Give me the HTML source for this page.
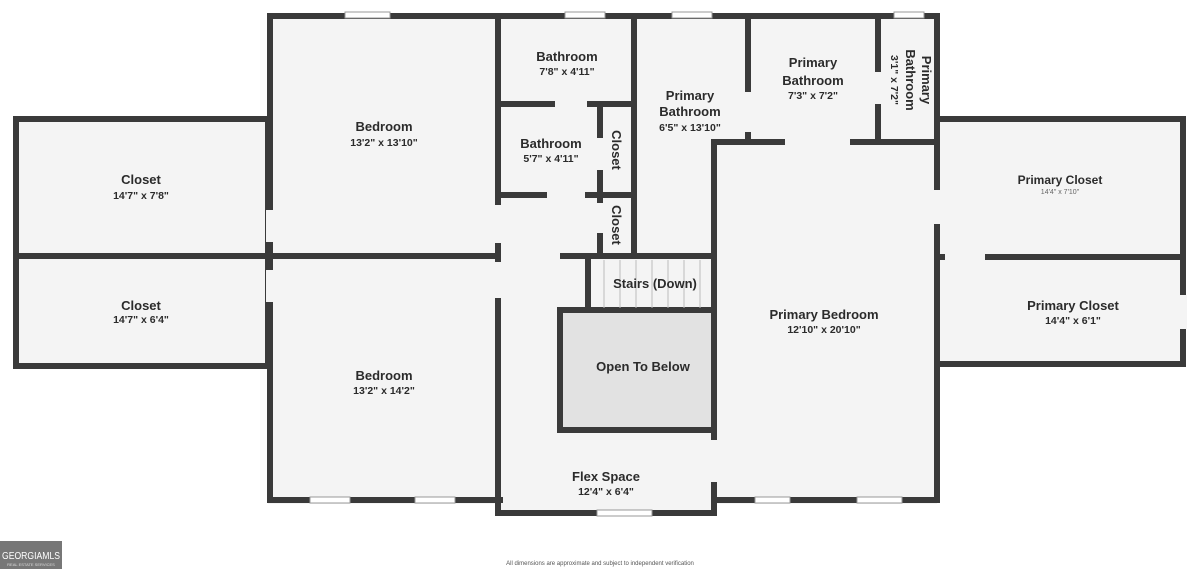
<!DOCTYPE html>
<html><head><meta charset="utf-8"><style>
html,body{margin:0;padding:0;background:#fff;width:1200px;height:569px;overflow:hidden}
svg{display:block}
text{font-family:"Liberation Sans","DejaVu Sans",sans-serif;fill:#2b2b2b;text-anchor:middle}
.t{font-size:13px;font-weight:bold}
.d{font-size:10.5px;font-weight:bold}
</style></head><body>
<svg width="1200" height="569" viewBox="0 0 1200 569">
<g fill="#f4f4f4">
<rect x="14" y="117" width="256" height="251"/>
<rect x="268" y="14" width="669" height="490"/>
<rect x="500" y="250" width="214" height="265"/>
<rect x="936" y="117" width="249" height="248"/>
<rect x="560" y="310" width="154" height="120" fill="#e2e2e2"/>
</g>
<g stroke="#3a3a3a" stroke-width="6" fill="none" stroke-linecap="square">
<rect x="16" y="119" width="252" height="247"/>
<line x1="16" y1="256" x2="268" y2="256"/>
<polyline points="270,16 937,16 937,142"/>
<line x1="270" y1="16" x2="270" y2="500"/>
<line x1="270" y1="500" x2="500" y2="500"/>
<line x1="498" y1="16" x2="498" y2="513"/>
<line x1="270" y1="256" x2="498" y2="256"/>
<polyline points="498,513 714,513 714,142"/>
<line x1="498" y1="104" x2="634" y2="104"/>
<line x1="498" y1="195" x2="634" y2="195"/>
<line x1="600" y1="104" x2="600" y2="252"/>
<line x1="634" y1="16" x2="634" y2="256"/>
<line x1="563" y1="256" x2="714" y2="256"/>
<line x1="588" y1="256" x2="588" y2="310"/>
<rect x="560" y="310" width="154" height="120"/>
<line x1="748" y1="16" x2="748" y2="142"/>
<line x1="878" y1="16" x2="878" y2="142"/>
<line x1="714" y1="142" x2="937" y2="142"/>
<line x1="937" y1="142" x2="937" y2="500"/>
<line x1="714" y1="500" x2="937" y2="500"/>
<rect x="937" y="119" width="246" height="245"/>
<line x1="937" y1="257" x2="1183" y2="257"/>
</g>
<g fill="#f4f4f4">
<rect x="266" y="210" width="8" height="32"/><rect x="266" y="270" width="8" height="32"/>
<rect x="494" y="205" width="8" height="38"/><rect x="494" y="262" width="8" height="36"/>
<rect x="555" y="100" width="32" height="8"/><rect x="547" y="191" width="38" height="8"/>
<rect x="596" y="138" width="8" height="32"/><rect x="596" y="203" width="8" height="30"/>
<rect x="744" y="92" width="8" height="40"/><rect x="874" y="72" width="8" height="32"/>
<rect x="785" y="138" width="65" height="8"/>
<rect x="933" y="190" width="8" height="34"/><rect x="945" y="253" width="40" height="8"/>
<rect x="1179" y="295" width="8" height="34"/>
<rect x="710" y="440" width="8" height="42"/>
</g>
<g fill="#fff" stroke="#999" stroke-width="1">
<rect x="345" y="12" width="45" height="6"/><rect x="310" y="497" width="40" height="6"/><rect x="415" y="497" width="40" height="6"/>
<rect x="565" y="12" width="40" height="6"/><rect x="672" y="12" width="40" height="6"/><rect x="894" y="12" width="30" height="6"/>
<rect x="755" y="497" width="35" height="6"/><rect x="857" y="497" width="45" height="6"/><rect x="597" y="510" width="55" height="6"/>
</g>
<g stroke="#bbb" stroke-width="1">
<line x1="604" y1="260" x2="604" y2="308"/><line x1="620" y1="260" x2="620" y2="308"/><line x1="636" y1="260" x2="636" y2="308"/>
<line x1="652" y1="260" x2="652" y2="308"/><line x1="668" y1="260" x2="668" y2="308"/><line x1="684" y1="260" x2="684" y2="308"/><line x1="700" y1="260" x2="700" y2="308"/>
</g>
<text class="t" x="141" y="184">Closet</text><text class="d" x="141" y="199">14'7" x 7'8"</text>
<text class="t" x="141" y="310">Closet</text><text class="d" x="141" y="323">14'7" x 6'4"</text>
<text class="t" x="384" y="131">Bedroom</text><text class="d" x="384" y="146">13'2" x 13'10"</text>
<text class="t" x="384" y="380">Bedroom</text><text class="d" x="384" y="394">13'2" x 14'2"</text>
<text class="t" x="567" y="61">Bathroom</text><text class="d" x="567" y="75">7'8" x 4'11"</text>
<text class="t" x="551" y="148">Bathroom</text><text class="d" x="551" y="162">5'7" x 4'11"</text>
<text class="t" transform="translate(612,150) rotate(90)">Closet</text>
<text class="t" transform="translate(612,225) rotate(90)">Closet</text>
<text class="t" x="690" y="100">Primary</text><text class="t" x="690" y="116">Bathroom</text><text class="d" x="690" y="131">6'5" x 13'10"</text>
<text class="t" x="813" y="67">Primary</text><text class="t" x="813" y="85">Bathroom</text><text class="d" x="813" y="99">7'3" x 7'2"</text>
<text class="t" transform="translate(922,80) rotate(90)">Primary</text>
<text class="t" transform="translate(906,80) rotate(90)">Bathroom</text>
<text class="d" transform="translate(891,80) rotate(90)">3'1" x 7'2"</text>
<text class="t" x="655" y="288">Stairs (Down)</text>
<text class="t" x="643" y="371">Open To Below</text>
<text class="t" x="824" y="319">Primary Bedroom</text><text class="d" x="824" y="333">12'10" x 20'10"</text>
<text class="t" x="606" y="481">Flex Space</text><text class="d" x="606" y="495">12'4" x 6'4"</text>
<text class="t" x="1060" y="184" style="font-size:12px">Primary Closet</text><text x="1060" y="194" style="font-size:7px;fill:#666">14'4"  x  7'10"</text>
<text class="t" x="1073" y="310">Primary Closet</text><text class="d" x="1073" y="324">14'4" x 6'1"</text>
<text x="600" y="565" style="font-size:6px;fill:#555">All dimensions are approximate and subject to independent verification</text>
<rect x="0" y="541" width="62" height="28" fill="#777"/>
<text x="31" y="559" style="font-size:10px;fill:#fff" textLength="58" lengthAdjust="spacingAndGlyphs">GEORGIAMLS</text>
<text x="31" y="566" style="font-size:4px;fill:#ddd">REAL ESTATE SERVICES</text>
</svg>
</body></html>
